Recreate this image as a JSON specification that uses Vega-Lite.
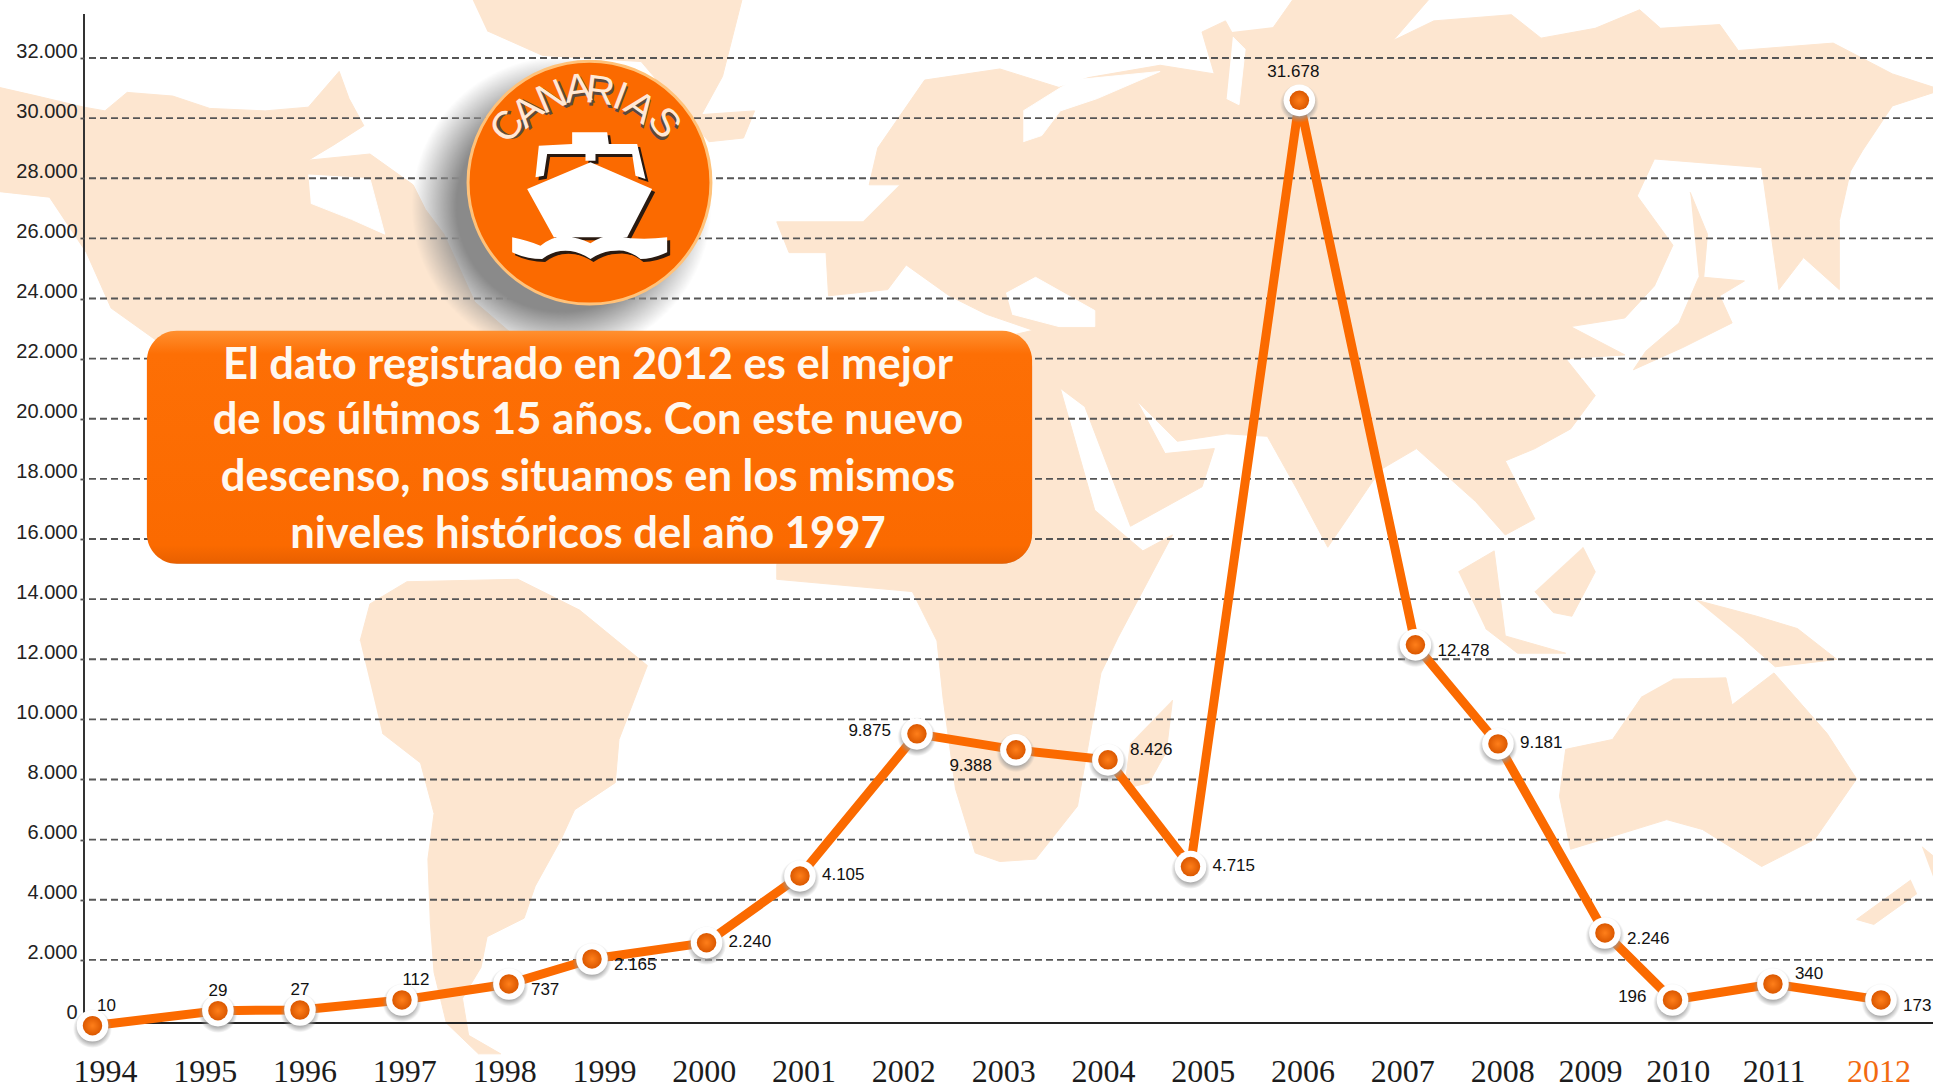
{
"$schema":"https://vega.github.io/schema/vega-lite/v6.json",
"width":1849,"height":1009,"autosize":{"type":"none"},"padding":{"left":84,"top":14,"right":0,"bottom":65},"background":"#ffffff",
"config":{"view":{"stroke":null}},
"datasets":{
"points":[
{"year":1994,"pos":1993.875,"value":-190,"label":"10"},
{"year":1995,"pos":1995.132,"value":310,"label":"29"},
{"year":1996,"pos":1995.954,"value":333,"label":"27"},
{"year":1997,"pos":1996.976,"value":666,"label":"112"},
{"year":1998,"pos":1998.048,"value":1198,"label":"737"},
{"year":1999,"pos":1998.88,"value":2030,"label":"2.165"},
{"year":2000,"pos":2000.028,"value":2573,"label":"2.240"},
{"year":2001,"pos":2000.964,"value":4792,"label":"4.105"},
{"year":2002,"pos":2002.136,"value":9518,"label":"9.875"},
{"year":2003,"pos":2003.128,"value":8986,"label":"9.388"},
{"year":2004,"pos":2004.05,"value":8653,"label":"8.426"},
{"year":2005,"pos":2004.877,"value":5102,"label":"4.715"},
{"year":2006,"pos":2005.968,"value":30591,"label":"31.678"},
{"year":2007,"pos":2007.131,"value":12480,"label":"12.478"},
{"year":2008,"pos":2007.958,"value":9185,"label":"9.181"},
{"year":2009,"pos":2009.03,"value":2895,"label":"2.246"},
{"year":2010,"pos":2009.707,"value":666,"label":"196"},
{"year":2011,"pos":2010.713,"value":1198,"label":"340"},
{"year":2012,"pos":2011.796,"value":666,"label":"173"}],
"grid":[{"v":2000},{"v":4000},{"v":6000},{"v":8000},{"v":10000},{"v":12000},{"v":14000},{"v":16000},{"v":18000},{"v":20000},{"v":22000},{"v":24000},{"v":26000},{"v":28000},{"v":30000},{"v":32000}],
"letters":[
{"t":"C","pos":1998.038,"value":29719,"rot":-55},
{"t":"A","pos":1998.238,"value":30218,"rot":-41},
{"t":"N","pos":1998.479,"value":30684,"rot":-23},
{"t":"A","pos":1998.739,"value":30950,"rot":-7},
{"t":"R","pos":1998.96,"value":30884,"rot":7},
{"t":"I","pos":1999.16,"value":30700,"rot":21},
{"t":"A","pos":1999.36,"value":30350,"rot":36},
{"t":"S","pos":1999.6,"value":29830,"rot":52}],
"box":[{"pos":1994.42,"pos2":2003.29,"value":22930,"value2":15176}],
"lines":[
{"t":"El dato registrado en 2012 es el mejor","value":21760},
{"t":"de los últimos 15 años. Con este nuevo","value":19930},
{"t":"descenso, nos situamos en los mismos","value":18030},
{"t":"niveles históricos del año 1997","value":16140}],
"land":[
{"p":"na","i":1,"x":-5,"y":70},{"p":"na","i":2,"x":30,"y":78},{"p":"na","i":3,"x":68,"y":87},{"p":"na","i":4,"x":85,"y":90},{"p":"na","i":5,"x":103,"y":75},{"p":"na","i":6,"x":140,"y":78},{"p":"na","i":7,"x":170,"y":88},{"p":"na","i":8,"x":215,"y":90},{"p":"na","i":9,"x":250,"y":87},{"p":"na","i":10,"x":275,"y":58},{"p":"na","i":11,"x":283,"y":80},{"p":"na","i":12,"x":295,"y":102},{"p":"na","i":13,"x":270,"y":118},{"p":"na","i":14,"x":250,"y":130},{"p":"na","i":15,"x":300,"y":125},{"p":"na","i":16,"x":335,"y":150},{"p":"na","i":17,"x":345,"y":170},{"p":"na","i":18,"x":360,"y":190},{"p":"na","i":19,"x":385,"y":245},{"p":"na","i":20,"x":420,"y":275},{"p":"na","i":21,"x":380,"y":340},{"p":"na","i":22,"x":300,"y":400},{"p":"na","i":23,"x":250,"y":400},{"p":"na","i":24,"x":125,"y":275},{"p":"na","i":25,"x":90,"y":250},{"p":"na","i":26,"x":70,"y":205},{"p":"na","i":27,"x":40,"y":160},{"p":"na","i":28,"x":-5,"y":155},
{"p":"gr","i":1,"x":381,"y":-5},{"p":"gr","i":2,"x":603,"y":-5},{"p":"gr","i":3,"x":586,"y":62},{"p":"gr","i":4,"x":569,"y":93},{"p":"gr","i":5,"x":612,"y":90},{"p":"gr","i":6,"x":603,"y":112},{"p":"gr","i":7,"x":575,"y":115},{"p":"gr","i":8,"x":520,"y":50},{"p":"gr","i":9,"x":440,"y":45},{"p":"gr","i":10,"x":395,"y":25},
{"p":"sa","i":1,"x":292,"y":520},{"p":"sa","i":2,"x":300,"y":490},{"p":"sa","i":3,"x":330,"y":472},{"p":"sa","i":4,"x":420,"y":470},{"p":"sa","i":5,"x":470,"y":495},{"p":"sa","i":6,"x":525,"y":540},{"p":"sa","i":7,"x":502,"y":600},{"p":"sa","i":8,"x":499,"y":635},{"p":"sa","i":9,"x":466,"y":657},{"p":"sa","i":10,"x":455,"y":681},{"p":"sa","i":11,"x":434,"y":719},{"p":"sa","i":12,"x":425,"y":745},{"p":"sa","i":13,"x":395,"y":760},{"p":"sa","i":14,"x":390,"y":785},{"p":"sa","i":15,"x":375,"y":810},{"p":"sa","i":16,"x":380,"y":840},{"p":"sa","i":17,"x":406,"y":855},{"p":"sa","i":18,"x":388,"y":855},{"p":"sa","i":19,"x":362,"y":830},{"p":"sa","i":20,"x":352,"y":789},{"p":"sa","i":21,"x":349,"y":749},{"p":"sa","i":22,"x":347,"y":697},{"p":"sa","i":23,"x":352,"y":660},{"p":"sa","i":24,"x":341,"y":619},{"p":"sa","i":25,"x":310,"y":595},
{"p":"eu","i":1,"x":1033,"y":22},{"p":"eu","i":2,"x":1052,"y":-5},{"p":"eu","i":3,"x":1163,"y":-5},{"p":"eu","i":4,"x":1130,"y":33},{"p":"eu","i":5,"x":1163,"y":17},{"p":"eu","i":6,"x":1226,"y":12},{"p":"eu","i":7,"x":1250,"y":31},{"p":"eu","i":8,"x":1294,"y":23},{"p":"eu","i":9,"x":1330,"y":8},{"p":"eu","i":10,"x":1347,"y":23},{"p":"eu","i":11,"x":1395,"y":20},{"p":"eu","i":12,"x":1410,"y":41},{"p":"eu","i":13,"x":1487,"y":35},{"p":"eu","i":14,"x":1535,"y":60},{"p":"eu","i":15,"x":1575,"y":73},{"p":"eu","i":16,"x":1535,"y":86},{"p":"eu","i":17,"x":1511,"y":122},{"p":"eu","i":18,"x":1501,"y":139},{"p":"eu","i":19,"x":1492,"y":179},{"p":"eu","i":20,"x":1492,"y":235},{"p":"eu","i":21,"x":1463,"y":209},{"p":"eu","i":22,"x":1443,"y":235},{"p":"eu","i":23,"x":1429,"y":136},{"p":"eu","i":24,"x":1342,"y":129},{"p":"eu","i":25,"x":1328,"y":159},{"p":"eu","i":26,"x":1357,"y":199},{"p":"eu","i":27,"x":1342,"y":232},{"p":"eu","i":28,"x":1318,"y":258},{"p":"eu","i":29,"x":1274,"y":265},{"p":"eu","i":30,"x":1318,"y":288},{"p":"eu","i":31,"x":1270,"y":291},{"p":"eu","i":32,"x":1294,"y":321},{"p":"eu","i":33,"x":1274,"y":348},{"p":"eu","i":34,"x":1245,"y":364},{"p":"eu","i":35,"x":1221,"y":374},{"p":"eu","i":36,"x":1245,"y":421},{"p":"eu","i":37,"x":1221,"y":434},{"p":"eu","i":38,"x":1197,"y":407},{"p":"eu","i":39,"x":1149,"y":364},{"p":"eu","i":40,"x":1120,"y":381},{"p":"eu","i":41,"x":1077,"y":444},{"p":"eu","i":42,"x":1052,"y":397},{"p":"eu","i":43,"x":1028,"y":354},{"p":"eu","i":44,"x":995,"y":352},{"p":"eu","i":45,"x":955,"y":358},{"p":"eu","i":46,"x":922,"y":325},{"p":"eu","i":47,"x":945,"y":368},{"p":"eu","i":48,"x":985,"y":364},{"p":"eu","i":49,"x":975,"y":395},{"p":"eu","i":50,"x":917,"y":427},{"p":"eu","i":51,"x":880,"y":330},{"p":"eu","i":52,"x":860,"y":315},{"p":"eu","i":53,"x":888,"y":414},{"p":"eu","i":54,"x":927,"y":447},{"p":"eu","i":55,"x":951,"y":434},{"p":"eu","i":56,"x":907,"y":517},{"p":"eu","i":57,"x":893,"y":546},{"p":"eu","i":58,"x":874,"y":654},{"p":"eu","i":59,"x":840,"y":697},{"p":"eu","i":60,"x":811,"y":699},{"p":"eu","i":61,"x":791,"y":692},{"p":"eu","i":62,"x":775,"y":640},{"p":"eu","i":63,"x":765,"y":567},{"p":"eu","i":64,"x":760,"y":520},{"p":"eu","i":65,"x":740,"y":480},{"p":"eu","i":66,"x":630,"y":470},{"p":"eu","i":67,"x":630,"y":458},{"p":"eu","i":68,"x":700,"y":300},{"p":"eu","i":69,"x":838,"y":268},{"p":"eu","i":70,"x":800,"y":255},{"p":"eu","i":71,"x":770,"y":240},{"p":"eu","i":72,"x":735,"y":215},{"p":"eu","i":73,"x":720,"y":235},{"p":"eu","i":74,"x":672,"y":240},{"p":"eu","i":75,"x":670,"y":205},{"p":"eu","i":76,"x":640,"y":205},{"p":"eu","i":77,"x":630,"y":180},{"p":"eu","i":78,"x":700,"y":180},{"p":"eu","i":79,"x":730,"y":150},{"p":"eu","i":80,"x":705,"y":150},{"p":"eu","i":81,"x":712,"y":120},{"p":"eu","i":82,"x":750,"y":65},{"p":"eu","i":83,"x":811,"y":56},{"p":"eu","i":84,"x":859,"y":71},{"p":"eu","i":85,"x":883,"y":63},{"p":"eu","i":86,"x":941,"y":53},{"p":"eu","i":87,"x":985,"y":60},{"p":"eu","i":88,"x":975,"y":26},{"p":"eu","i":89,"x":994,"y":17},{"p":"eu","i":90,"x":999,"y":26},
{"p":"au","i":1,"x":1357,"y":551},{"p":"au","i":2,"x":1400,"y":550},{"p":"au","i":3,"x":1405,"y":572},{"p":"au","i":4,"x":1439,"y":546},{"p":"au","i":5,"x":1482,"y":595},{"p":"au","i":6,"x":1506,"y":632},{"p":"au","i":7,"x":1472,"y":681},{"p":"au","i":8,"x":1429,"y":703},{"p":"au","i":9,"x":1381,"y":673},{"p":"au","i":10,"x":1352,"y":665},{"p":"au","i":11,"x":1274,"y":689},{"p":"au","i":12,"x":1265,"y":646},{"p":"au","i":13,"x":1270,"y":608},{"p":"au","i":14,"x":1308,"y":600},{"p":"au","i":15,"x":1332,"y":565},
{"p":"mg","i":1,"x":951,"y":568},{"p":"mg","i":2,"x":946,"y":610},{"p":"mg","i":3,"x":932,"y":635},{"p":"mg","i":4,"x":912,"y":640},{"p":"mg","i":5,"x":917,"y":603},
{"p":"jp","i":1,"x":1371,"y":156},{"p":"jp","i":2,"x":1385,"y":190},{"p":"jp","i":3,"x":1382,"y":225},{"p":"jp","i":4,"x":1415,"y":228},{"p":"jp","i":5,"x":1395,"y":240},{"p":"jp","i":6,"x":1405,"y":262},{"p":"jp","i":7,"x":1365,"y":282},{"p":"jp","i":8,"x":1325,"y":300},{"p":"jp","i":9,"x":1335,"y":285},{"p":"jp","i":10,"x":1362,"y":262},{"p":"jp","i":11,"x":1378,"y":225},
{"p":"bo","i":1,"x":1284,"y":444},{"p":"bo","i":2,"x":1294,"y":464},{"p":"bo","i":3,"x":1275,"y":500},{"p":"bo","i":4,"x":1260,"y":497},{"p":"bo","i":5,"x":1245,"y":480},
{"p":"su","i":1,"x":1183,"y":464},{"p":"su","i":2,"x":1212,"y":447},{"p":"su","i":3,"x":1221,"y":516},{"p":"su","i":4,"x":1270,"y":530},{"p":"su","i":5,"x":1231,"y":530},{"p":"su","i":6,"x":1205,"y":510},
{"p":"ng","i":1,"x":1376,"y":487},{"p":"ng","i":2,"x":1425,"y":500},{"p":"ng","i":3,"x":1458,"y":510},{"p":"ng","i":4,"x":1490,"y":535},{"p":"ng","i":5,"x":1440,"y":541},{"p":"ng","i":6,"x":1415,"y":519},
{"p":"nz","i":1,"x":1550,"y":714},{"p":"nz","i":2,"x":1506,"y":746},{"p":"nz","i":3,"x":1520,"y":750},{"p":"nz","i":4,"x":1555,"y":725},
{"p":"nz2","i":1,"x":1559,"y":687},{"p":"nz2","i":2,"x":1575,"y":700},{"p":"nz2","i":3,"x":1575,"y":730}],
"water":[
{"p":"hu","i":1,"x":250,"y":142},{"p":"hu","i":2,"x":300,"y":145},{"p":"hu","i":3,"x":312,"y":190},{"p":"hu","i":4,"x":285,"y":178},{"p":"hu","i":5,"x":252,"y":165},
{"p":"bl","i":1,"x":816,"y":238},{"p":"bl","i":2,"x":840,"y":225},{"p":"bl","i":3,"x":888,"y":252},{"p":"bl","i":4,"x":888,"y":265},{"p":"bl","i":5,"x":859,"y":265},{"p":"bl","i":6,"x":821,"y":255},
{"p":"ba","i":1,"x":830,"y":90},{"p":"ba","i":2,"x":870,"y":65},{"p":"ba","i":3,"x":941,"y":58},{"p":"ba","i":4,"x":890,"y":80},{"p":"ba","i":5,"x":860,"y":90},{"p":"ba","i":6,"x":845,"y":110},{"p":"ba","i":7,"x":830,"y":115},
{"p":"no","i":1,"x":1000,"y":30},{"p":"no","i":2,"x":1010,"y":40},{"p":"no","i":3,"x":1005,"y":85},{"p":"no","i":4,"x":995,"y":80}]
},
"layer":[
{"data":{"name":"land"},"mark":{"type":"line","fill":"#FDE6D0","stroke":"#FDE6D0","strokeWidth":1},
 "encoding":{"x":{"field":"x","type":"quantitative","scale":{"domain":[68,1568],"nice":false,"zero":false},"axis":null},"y":{"field":"y","type":"quantitative","scale":{"domain":[830,11.4],"nice":false,"zero":false},"axis":null},"detail":{"field":"p"},"order":{"field":"i"}}},
{"data":{"name":"water"},"mark":{"type":"line","fill":"#ffffff","stroke":"#ffffff","strokeWidth":1},
 "encoding":{"x":{"field":"x","type":"quantitative","scale":{"domain":[68,1568],"nice":false,"zero":false},"axis":null},"y":{"field":"y","type":"quantitative","scale":{"domain":[830,11.4],"nice":false,"zero":false},"axis":null},"detail":{"field":"p"},"order":{"field":"i"}}},
{"encoding":{},"layer":[
 {"data":{"name":"grid"},"mark":{"type":"rule","color":"#555555","strokeWidth":1.8,"strokeDash":[7,4]},
  "encoding":{"y":{"field":"v","type":"quantitative","scale":{"domain":[-100,33464],"nice":false,"zero":false},
   "axis":{"title":null,"grid":false,"domain":false,"zindex":1,"values":[0,2000,4000,6000,8000,10000,12000,14000,16000,18000,20000,22000,24000,26000,28000,30000,32000],"labelExpr":"replace(format(datum.value,','),',','.')","labelFont":"Liberation Sans","labelFontSize":20,"labelColor":"#222222","labelOffset":-7,"labelPadding":3,"tickSize":4,"tickColor":{"condition":{"test":"datum.value==0","value":"transparent"},"value":"#555555"},"tickWidth":1.8,"labelOverlap":false,"labelBound":false}}}},
 {"data":{"values":[{"v":-100}]},"mark":{"type":"rule","color":"#222222","strokeWidth":2},
  "encoding":{"y":{"field":"v","type":"quantitative"}}},
 {"data":{"values":[{"p":1993.79}]},"mark":{"type":"rule","color":"#333333","strokeWidth":2},
  "encoding":{"x":{"field":"p","type":"quantitative"}}},
 {"data":{"name":"points"},"mark":{"type":"line","color":"#FB6A00","strokeWidth":9,"strokeJoin":"round"},
  "encoding":{"x":{"field":"pos","type":"quantitative","scale":{"domain":[1993.79,2012.317],"nice":false,"zero":false},
    "axis":{"title":null,"grid":false,"domain":false,"values":[1994,1995,1996,1997,1998,1999,2000,2001,2002,2003,2004,2005,2006,2007,2008,2008.88,2009.76,2010.72,2011.77],"labelExpr":"format(ceil(datum.value),'d')","labelFont":"Liberation Serif","labelFontSize":32,"labelColor":{"condition":{"test":"datum.value>2011","value":"#F26A10"},"value":"#1c1c1c"},"labelPadding":33,"tickSize":0,"labelOverlap":false,"labelBound":false,"labelFlush":false}},
   "y":{"field":"value","type":"quantitative"}}},
 {"data":{"name":"points"},"mark":{"type":"point","filled":true,"opacity":1,"size":1500,"yOffset":3,"fill":{"gradient":"radial","stops":[{"offset":0.6,"color":"#999999"},{"offset":1,"color":"rgba(150,150,150,0)"}]}},
  "encoding":{"x":{"field":"pos","type":"quantitative"},"y":{"field":"value","type":"quantitative"}}},
 {"data":{"name":"points"},"mark":{"type":"point","filled":true,"fill":"#ffffff","opacity":1,"size":1000},
  "encoding":{"x":{"field":"pos","type":"quantitative"},"y":{"field":"value","type":"quantitative"}}},
 {"data":{"name":"points"},"mark":{"type":"point","filled":true,"opacity":1,"size":380,"fill":{"gradient":"radial","stops":[{"offset":0,"color":"#FF7F1A"},{"offset":1,"color":"#DB5800"}]}},
  "encoding":{"x":{"field":"pos","type":"quantitative"},"y":{"field":"value","type":"quantitative"}}},
 {"data":{"name":"points"},"transform":[{"filter":"indexof([2000,2001,2005,2008],datum.year)>=0"}],"mark":{"type":"text","align":"left","dx":22,"dy":-1,"font":"Liberation Sans","fontSize":17,"color":"#111111"},
  "encoding":{"x":{"field":"pos","type":"quantitative"},"y":{"field":"value","type":"quantitative"},"text":{"field":"label"}}},
 {"data":{"name":"points"},"transform":[{"filter":"indexof([1998,1999,2007,2009,2012],datum.year)>=0"}],"mark":{"type":"text","align":"left","dx":22,"dy":6,"font":"Liberation Sans","fontSize":17,"color":"#111111"},
  "encoding":{"x":{"field":"pos","type":"quantitative"},"y":{"field":"value","type":"quantitative"},"text":{"field":"label"}}},
 {"data":{"name":"points"},"transform":[{"filter":"indexof([2004,2011],datum.year)>=0"}],"mark":{"type":"text","align":"left","dx":22,"dy":-10,"font":"Liberation Sans","fontSize":17,"color":"#111111"},
  "encoding":{"x":{"field":"pos","type":"quantitative"},"y":{"field":"value","type":"quantitative"},"text":{"field":"label"}}},
 {"data":{"name":"points"},"transform":[{"filter":"indexof([2002,2010],datum.year)>=0"}],"mark":{"type":"text","align":"right","dx":-26,"dy":-3,"font":"Liberation Sans","fontSize":17,"color":"#111111"},
  "encoding":{"x":{"field":"pos","type":"quantitative"},"y":{"field":"value","type":"quantitative"},"text":{"field":"label"}}},
 {"data":{"name":"points"},"transform":[{"filter":"datum.year==2003"}],"mark":{"type":"text","align":"right","dx":-24,"dy":16,"font":"Liberation Sans","fontSize":17,"color":"#111111"},
  "encoding":{"x":{"field":"pos","type":"quantitative"},"y":{"field":"value","type":"quantitative"},"text":{"field":"label"}}},
 {"data":{"name":"points"},"transform":[{"filter":"indexof([1995,1996],datum.year)>=0"}],"mark":{"type":"text","dy":-20,"font":"Liberation Sans","fontSize":17,"color":"#111111"},
  "encoding":{"x":{"field":"pos","type":"quantitative"},"y":{"field":"value","type":"quantitative"},"text":{"field":"label"}}},
 {"data":{"name":"points"},"transform":[{"filter":"indexof([1994,1997],datum.year)>=0"}],"mark":{"type":"text","dx":14,"dy":-20,"font":"Liberation Sans","fontSize":17,"color":"#111111"},
  "encoding":{"x":{"field":"pos","type":"quantitative"},"y":{"field":"value","type":"quantitative"},"text":{"field":"label"}}},
 {"data":{"name":"points"},"transform":[{"filter":"datum.year==2006"}],"mark":{"type":"text","dx":-6,"dy":-28,"font":"Liberation Sans","fontSize":17,"color":"#111111"},
  "encoding":{"x":{"field":"pos","type":"quantitative"},"y":{"field":"value","type":"quantitative"},"text":{"field":"label"}}},
 {"data":{"values":[{"pos":1998.855,"value":27855}]},"mark":{"type":"point","filled":true,"opacity":1,"size":90000,"xOffset":-28,"yOffset":24,"fill":{"gradient":"radial","stops":[{"offset":0.7,"color":"#8a8a8a"},{"offset":1,"color":"rgba(140,140,140,0)"}]}},
  "encoding":{"x":{"field":"pos","type":"quantitative"},"y":{"field":"value","type":"quantitative"}}},
 {"data":{"values":[{"pos":1998.855,"value":27855}]},"mark":{"type":"point","filled":true,"fill":"#FB6A00","opacity":1,"size":59000,"stroke":"#FFC27A","strokeWidth":3},
  "encoding":{"x":{"field":"pos","type":"quantitative"},"y":{"field":"value","type":"quantitative"}}},
 {"data":{"name":"letters"},"mark":{"type":"text","font":"Liberation Sans","fontSize":40,"color":"#5a4a40","dx":2,"dy":3},
  "encoding":{"x":{"field":"pos","type":"quantitative"},"y":{"field":"value","type":"quantitative"},"text":{"field":"t"},"angle":{"field":"rot","type":"quantitative","scale":null}}},
 {"data":{"name":"letters"},"mark":{"type":"text","font":"Liberation Sans","fontSize":40,"color":"#FFE9D6"},
  "encoding":{"x":{"field":"pos","type":"quantitative"},"y":{"field":"value","type":"quantitative"},"text":{"field":"t"},"angle":{"field":"rot","type":"quantitative","scale":null}}},
 {"data":{"values":[{"pos":1998.865,"value":27810}]},"mark":{"type":"point","filled":true,"fill":"#2a1a10","opacity":1,"size":27778,"xOffset":3,"yOffset":3,"shape":"M-.76,.06 L0,-.26 L.74,.06 L.44,.64 L-.44,.64 Z M-.66,-.08 L-.62,-.46 L-.22,-.48 L-.22,-.62 L.2,-.62 L.22,-.48 L.56,-.48 L.66,-.06 L.54,-.1 L.5,-.36 L.06,-.36 L.06,-.28 L-.06,-.28 L-.06,-.36 L-.52,-.36 L-.56,-.1 Z M-.94,.64 Q-.75,.68 -.6,.74 Q-.45,.62 -.3,.63 Q-.15,.64 0,.71 Q.16,.6 .32,.63 Q.6,.68 .92,.64 L.92,.82 Q.75,.9 .6,.9 Q.45,.78 .3,.8 Q.15,.8 0,.9 Q-.15,.8 -.3,.8 Q-.45,.8 -.58,.9 Q-.78,.9 -.94,.82 Z"},
  "encoding":{"x":{"field":"pos","type":"quantitative"},"y":{"field":"value","type":"quantitative"}}},
 {"data":{"values":[{"pos":1998.865,"value":27810}]},"mark":{"type":"point","filled":true,"fill":"#ffffff","opacity":1,"size":27778,"shape":"M-.76,.06 L0,-.26 L.74,.06 L.44,.64 L-.44,.64 Z M-.66,-.08 L-.62,-.46 L-.22,-.48 L-.22,-.62 L.2,-.62 L.22,-.48 L.56,-.48 L.66,-.06 L.54,-.1 L.5,-.36 L.06,-.36 L.06,-.28 L-.06,-.28 L-.06,-.36 L-.52,-.36 L-.56,-.1 Z M-.94,.64 Q-.75,.68 -.6,.74 Q-.45,.62 -.3,.63 Q-.15,.64 0,.71 Q.16,.6 .32,.63 Q.6,.68 .92,.64 L.92,.82 Q.75,.9 .6,.9 Q.45,.78 .3,.8 Q.15,.8 0,.9 Q-.15,.8 -.3,.8 Q-.45,.8 -.58,.9 Q-.78,.9 -.94,.82 Z"},
  "encoding":{"x":{"field":"pos","type":"quantitative"},"y":{"field":"value","type":"quantitative"}}},
 {"data":{"name":"box"},"mark":{"type":"rect","fill":"#666666","opacity":0.35,"cornerRadius":30,"xOffset":2,"yOffset":6},
  "encoding":{"x":{"field":"pos","type":"quantitative"},"x2":{"field":"pos2"},"y":{"field":"value","type":"quantitative"},"y2":{"field":"value2"}}},
 {"data":{"name":"box"},"mark":{"type":"rect","cornerRadius":30,"opacity":1,"fill":{"gradient":"linear","x1":0,"y1":0,"x2":0,"y2":1,"stops":[{"offset":0,"color":"#FF9030"},{"offset":0.1,"color":"#FD6F05"},{"offset":0.92,"color":"#FB6A00"},{"offset":1,"color":"#E86000"}]}},
  "encoding":{"x":{"field":"pos","type":"quantitative"},"x2":{"field":"pos2"},"y":{"field":"value","type":"quantitative"},"y2":{"field":"value2"}}},
 {"data":{"name":"lines"},"mark":{"type":"text","font":"Lato","fontWeight":"bold","fontSize":43.5,"color":"#FFF8F0","baseline":"middle"},
  "encoding":{"x":{"datum":1998.84,"type":"quantitative"},"y":{"field":"value","type":"quantitative"},"text":{"field":"t"}}}
]}
],
"resolve":{"scale":{"x":"independent","y":"independent"}}
}
